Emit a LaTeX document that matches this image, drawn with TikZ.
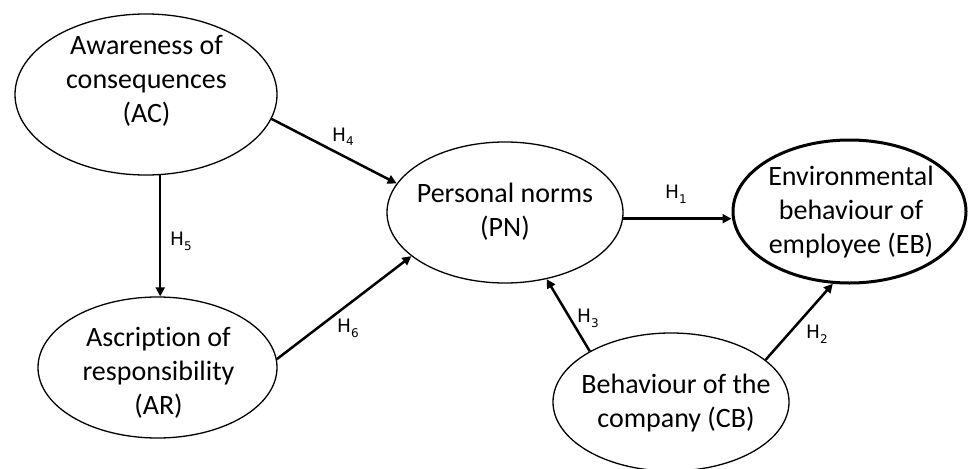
\documentclass[tikz,border=0pt]{standalone}
\usepackage{fontspec}
\setmainfont{Carlito}[Ligatures={NoCommon}]
\newfontfamily\labfont{DejaVu Sans}
\usetikzlibrary{arrows.meta,shapes.geometric}
\newcommand{\hyp}[1]{H\raisebox{-5pt}{\fontsize{12}{12}\selectfont #1}}
\begin{document}
\begin{tikzpicture}[x=1pt,y=-1pt,
  ell/.style={draw, shape=ellipse, line width=1.3pt, inner sep=0pt},
  txt/.style={align=center, font=\fontsize{28}{34}\selectfont, inner sep=0pt},
  arr/.style={line width=2.5pt, -{Triangle[length=9pt,width=9pt]}},
  hl/.style={font=\labfont\fontsize{18.5}{18.5}\selectfont, inner sep=0pt, anchor=base west}]
\useasboundingbox (0,0) rectangle (968,468);
% ellipses
\node[ell, minimum width=262pt, minimum height=161pt] (AC) at (146,94.5) {};
\node[ell, minimum width=239pt, minimum height=141pt] (AR) at (157.5,367.5) {};
\node[ell, minimum width=236pt, minimum height=141pt] (PN) at (505,212.5) {};
\node[ell, line width=3pt, minimum width=233pt, minimum height=143pt] (EB) at (849.5,211.5) {};
\node[ell, minimum width=236pt, minimum height=138pt] (CB) at (671,402) {};
% texts
\node[txt] (ACt) at (146.5,81) {Awareness of\\consequences\\(AC)};
\node[txt] (ARt) at (158.5,373) {Ascription of\\responsibility\\(AR)};
\node[txt] (PNt) at (505,212) {Personal norms\\(PN)};
\node[txt] (EBt) at (851,212.5) {Environmental\\behaviour of\\employee (EB)};
\node[txt] (CBt) at (676,403) {Behaviour of the\\company (CB)};
% connectors
\draw[arr] (AC.-11.2) -- (PN.165.1);
\draw[arr] (AC.-80.1) -- (AC.-80.1 |- AR.north);
\draw[arr] (AR.4.9) -- (PN.-155.1);
\draw[arr] (PN.-3) -- (EB.west |- PN.-3);
\draw[arr] (CB.148.9) -- (PN.-58.9);
\draw[arr] (CB.24.4) -- (EB.-103.4);
% labels
\node[hl] (h4) at (332,141) {\hyp{4}};
\node[hl] (h1) at (665,198) {\hyp{1}};
\node[hl] (h3) at (577,322) {\hyp{3}};
\node[hl] (h2) at (806,338) {\hyp{2}};
\node[hl] (h5) at (170,245) {\hyp{5}};
\node[hl] (h6) at (337,332) {\hyp{6}};
\end{tikzpicture}
\end{document}
